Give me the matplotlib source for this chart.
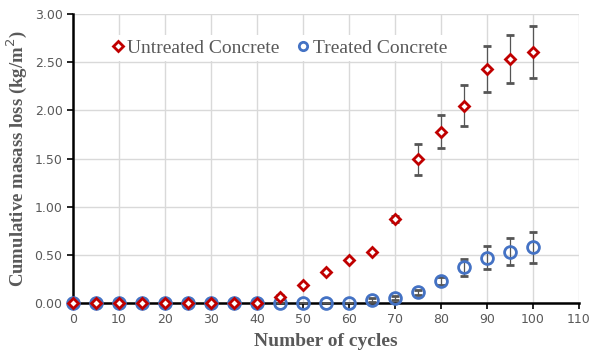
import numpy as np
import matplotlib.pyplot as plt
from matplotlib.lines import Line2D

# Freeze-thaw scaling results
cycles = [0, 5, 10, 15, 20, 25, 30, 35, 40, 45, 50, 55, 60, 65, 70, 75, 80, 85, 90, 95, 100]

untreated = [0, 0, 0, 0, 0, 0, 0, 0, 0, 0.06, 0.19, 0.32, 0.45, 0.53, 0.87,
             1.49, 1.78, 2.05, 2.43, 2.53, 2.61]
untreated_err = [0, 0, 0, 0, 0, 0, 0, 0, 0, 0.02, 0, 0, 0, 0, 0.03,
                 0.16, 0.17, 0.21, 0.24, 0.25, 0.27]

treated = [0, 0, 0, 0, 0, 0, 0, 0, 0, 0, 0, 0, 0, 0.03, 0.05,
           0.11, 0.23, 0.37, 0.47, 0.53, 0.58]
treated_err = [0, 0, 0, 0, 0, 0, 0, 0, 0, 0, 0, 0, 0, 0.02, 0.02,
               0.03, 0.04, 0.09, 0.12, 0.14, 0.16]

RED = '#C00000'
BLUE = '#4472C4'
GRAY = '#595959'

fig = plt.figure(figsize=(5.91, 3.54), dpi=100)
ax = fig.add_axes([73 / 591, 51 / 354, 506 / 591, 289 / 354])

t_bars = ax.errorbar(cycles, treated, yerr=treated_err, fmt='o', ms=8.5, mew=2,
                     mec=BLUE, mfc='none', ecolor='#555555', elinewidth=0.9,
                     capsize=3, capthick=0.9, zorder=3)
u_bars = ax.errorbar(cycles, untreated, yerr=untreated_err, fmt='D', ms=5.5, mew=2,
                     mec=RED, mfc='white', ecolor='#555555', elinewidth=0.9,
                     capsize=3, capthick=0.9, zorder=4)
for cont in (t_bars, u_bars):
    cont.lines[0].set_clip_on(False)

ax.set_xlim(0, 110)
ax.set_ylim(0, 3.0)
ax.set_xticks(np.arange(0, 111, 10))
ax.set_yticks(np.arange(0, 3.01, 0.5))
ax.set_yticklabels([f'{v:.2f}' for v in np.arange(0, 3.01, 0.5)])

ax.grid(True, color='#D9D9D9', linewidth=1)
ax.set_axisbelow(True)
for side in ['top', 'right']:
    ax.spines[side].set_visible(False)
for side in ['left', 'bottom']:
    ax.spines[side].set_linewidth(1.8)
    ax.spines[side].set_color('black')
    ax.spines[side].set_zorder(2)

ax.tick_params(axis='both', labelsize=9, labelcolor=GRAY, length=4, width=1.2,
               direction='out')
for lbl in ax.get_xticklabels() + ax.get_yticklabels():
    lbl.set_family('DejaVu Sans')

ax.set_xlabel('Number of cycles', family='Liberation Serif', fontweight='bold',
              fontsize=14, color=GRAY, labelpad=5)
ax.set_ylabel('Cumulative masass loss (kg/m$^2$)', family='Liberation Serif',
              fontweight='bold', fontsize=13.5, color=GRAY, labelpad=4)

handles = [
    Line2D([], [], ls='none', marker='D', ms=5, mew=2, mec=RED, mfc='white'),
    Line2D([], [], ls='none', marker='o', ms=6, mew=2, mec=BLUE, mfc='white'),
]
leg = ax.legend(handles, ['Untreated Concrete', 'Treated Concrete'],
                loc='upper left', ncol=2, bbox_to_anchor=(0.05, 0.96),
                frameon=True, fancybox=False, edgecolor='none', framealpha=1,
                handlelength=0.6, handletextpad=0.2, columnspacing=0.9,
                borderpad=0.2, prop={'family': 'Liberation Serif', 'size': 14})
for t in leg.get_texts():
    t.set_color(GRAY)

fig.savefig('out.png', dpi=100)
